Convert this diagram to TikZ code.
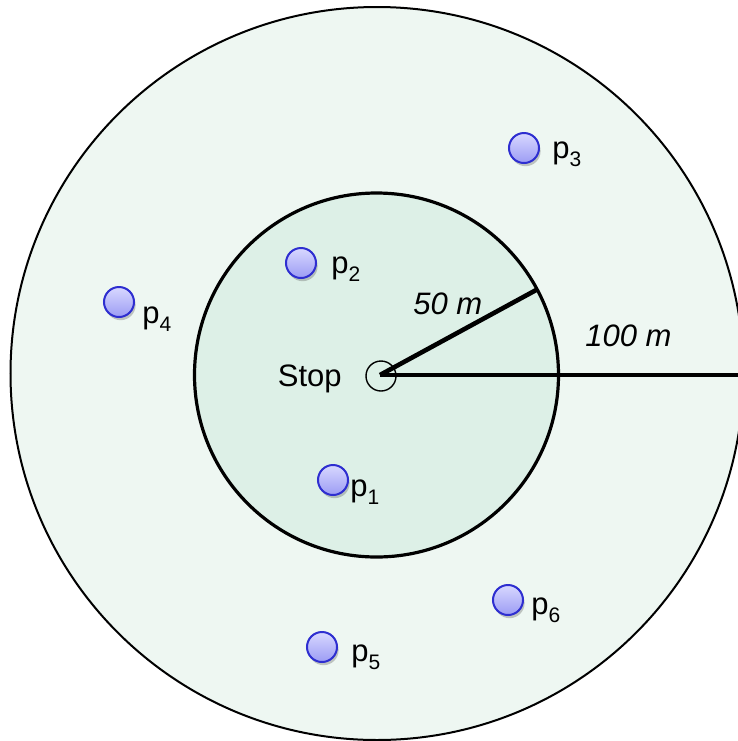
\documentclass[tikz,border=0pt]{standalone}
\usepackage{fontspec}
\setmainfont{Liberation Sans}
\usetikzlibrary{shadows}
\definecolor{outerfill}{HTML}{EEF7F2}
\definecolor{innerfill}{HTML}{DDF0E7}
\definecolor{ptborder}{HTML}{2E2ED0}
\definecolor{pttop}{HTML}{D8D8FF}
\definecolor{ptbot}{HTML}{9C9CF4}
\newcommand{\psub}[1]{p\raisebox{-0.28em}{\fontsize{10.5pt}{10.5pt}\selectfont #1}}
\tikzset{
  ptnode/.style={circle, draw=ptborder, line width=1pt, minimum size=15pt, inner sep=0pt,
    top color=pttop, bottom color=ptbot,
    drop shadow={shadow xshift=0.8pt, shadow yshift=-1.6pt, opacity=0.3, fill=black!70}},
  lbl/.style={anchor=base west, inner sep=0pt, font=\fontsize{15.5pt}{16pt}\selectfont},
  radline/.style={line width=2.3pt, line cap=butt},
}
\begin{document}
\begin{tikzpicture}[x=0.5pt, y=-0.5pt]
\useasboundingbox (0,0) rectangle (738,741);
\begin{scope}
\clip (0,0) rectangle (738,741);
% outer circle
\draw[fill=outerfill, line width=1pt] (377,373.5) circle[radius=183.25pt];
% inner circle
\draw[fill=innerfill, line width=1.6pt] (376.5,375) circle[radius=91pt];
% stop
\coordinate (c) at (380,375);
\node[circle, draw, line width=0.7pt, minimum size=15pt, inner sep=0pt] (stop) at (381,376) {};
\coordinate (r50) at (538,289);
\coordinate (r100) at (740,375);
\draw[radline] (c) -- (r50);
\draw[radline] (c) -- (r100);
\end{scope}
% labels
\node[lbl, anchor=base east] (stoplbl) at (342,386) {Stop};
\node[lbl] (l50) at (413,314) {\itshape 50 m};
\node[lbl] (l100) at (585,346) {\itshape 100 m};
% points
\node[ptnode] (p1) at (333,480) {};
\node[ptnode] (p2) at (301,263) {};
\node[ptnode] (p3) at (524,148) {};
\node[ptnode] (p4) at (119,302) {};
\node[ptnode] (p5) at (322,647) {};
\node[ptnode] (p6) at (508,600) {};
\node[lbl] (t1) at (350,496) {\psub{1}};
\node[lbl] (t2) at (331,273) {\psub{2}};
\node[lbl] (t3) at (552,158) {\psub{3}};
\node[lbl] (t4) at (142,323) {\psub{4}};
\node[lbl] (t5) at (351,661) {\psub{5}};
\node[lbl] (t6) at (531,614) {\psub{6}};
\end{tikzpicture}
\end{document}
